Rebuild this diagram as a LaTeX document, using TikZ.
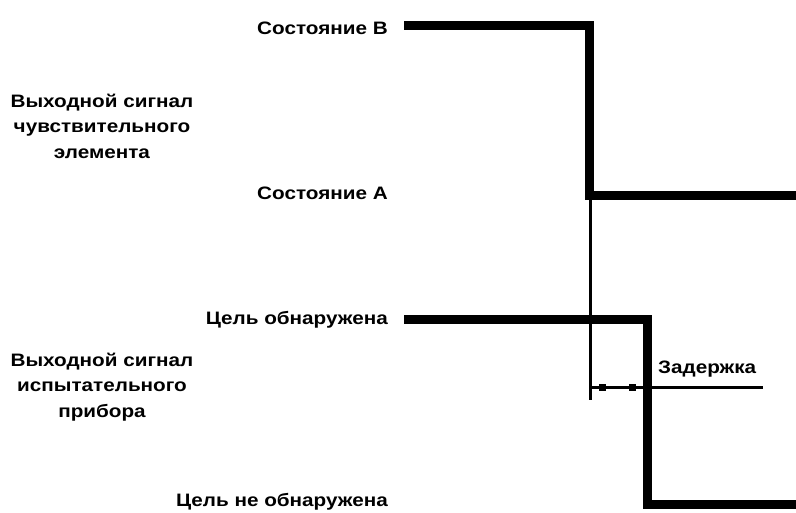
\documentclass[tikz,border=0pt]{standalone}
\usepackage{fontspec}
\setmainfont{Liberation Sans}
\newfontfamily\lblfont[FakeStretch=1.15]{Liberation Sans}
\begin{document}
\begin{tikzpicture}[x=1pt,y=-1pt,
  lbl/.style={font=\lblfont\bfseries\fontsize{18}{25.5}\selectfont, inner sep=0pt},
  rlbl/.style={lbl, anchor=east},
  blk/.style={lbl, align=center},
  sig/.style={line width=9pt, line join=miter},
  thin/.style={line width=3pt},
  mk/.style={fill=black, draw=none, minimum width=7pt, minimum height=7pt, inner sep=0pt}]
\useasboundingbox (0,0) rectangle (796,512);
% labels
\node[rlbl] (lB) at (388,28) {Состояние В};
\node[rlbl] (lA) at (388,193) {Состояние А};
\node[blk] (s1) at (102,126) {Выходной сигнал\\чувствительного\\элемента};
\node[rlbl] (lT) at (388,320) {Цель обнаружена};
\node[rlbl] (lN) at (388,502) {Цель не обнаружена};
\node[blk] (s2) at (102,387) {Выходной сигнал\\испытательного\\прибора};
\node[lbl, anchor=south west] (dl) at (658,377) {Задержка};
% signal 1
\coordinate (b0) at (404,25);
\coordinate (b1) at (589,25);
\coordinate (a1) at (589,195);
\coordinate (a0) at (797,195);
\draw[sig] (b0) -- (b1) -- (a1) -- (a0);
% signal 2
\coordinate (t0) at (404,319);
\coordinate (t1) at (647,319);
\coordinate (n1) at (647,504);
\coordinate (n0) at (797,504);
\draw[sig] (t0) -- (t1) -- (n1) -- (n0);
% reference line and delay dimension
\coordinate (v0) at (590,195);
\coordinate (v1) at (590,400);
\draw[thin] (v0) -- (v1);
\coordinate (d0) at (590,387);
\coordinate (d1) at (763,387);
\draw[thin] (d0) -- (d1);
\node[mk] (m1) at (602,387) {};
\node[mk] (m2) at (632,387) {};
\end{tikzpicture}
\end{document}
